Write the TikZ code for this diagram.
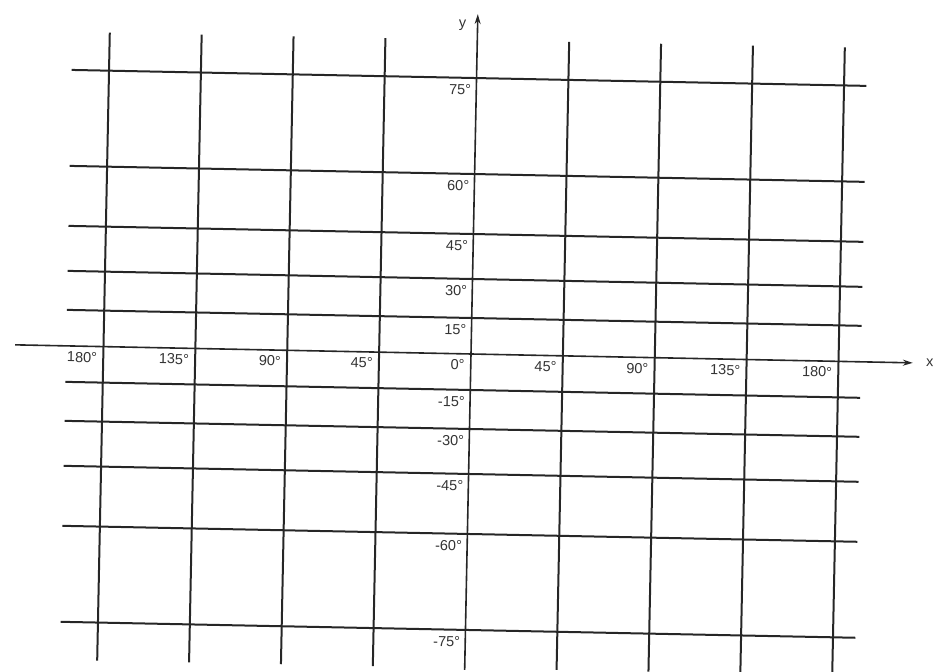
\documentclass[tikz,border=0pt]{standalone}
\usepackage{fontspec}
\setmainfont{Liberation Sans}
\usetikzlibrary{arrows.meta}
\begin{document}
\begin{tikzpicture}[x=1pt,y=1pt,
  gridline/.style={line width=2pt, draw=black!85},
  axisline/.style={line width=1.6pt, draw=black!85, -{Stealth[length=10pt,width=6pt]}},
  lbl/.style={font=\fontsize{14.5}{16}\selectfont, text=black!80, inner sep=0pt, transform shape}]
\useasboundingbox (0,0) rectangle (938,672);
\begin{scope}[shift={(471,318)}, rotate=-1.15]
  % parallels
  \foreach \v in {276,180,120,75,36,-36,-75,-120,-180,-276}
    \draw[gridline] (-405,\v) -- (390,\v);
  % meridians
  \foreach \k in {-4,-3,-2,-1,1,2,3,4}
    \draw[gridline] (\k*91.9,-314) -- (\k*91.9,314);
  % axes
  \coordinate (xs) at (-456,0);
  \coordinate (xe) at (442,0);
  \coordinate (ys) at (0,-316);
  \coordinate (ye) at (0,340);
  \draw[axisline] (xs) -- (xe);
  \draw[axisline] (ys) -- (ye);
  \node[lbl] (xlab) at (459,0) {x};
  \node[lbl] (ylab) at (-15,329) {y};
  % longitude labels
  \foreach \i/\k/\t in {1/-4/180,2/-3/135,3/-2/90,4/-1/45,5/0/0,6/1/45,7/2/90,8/3/135,9/4/180}
    \node[lbl, anchor=east] (lx\i) at (\k*91.9-6,-11) {\t°};
  % latitude labels
  \foreach \i/\v/\t in {1/276/75,2/180/60,3/120/45,4/75/30,5/36/15,6/-36/-15,7/-75/-30,8/-120/-45,9/-180/-60,10/-276/-75}
    \node[lbl, anchor=east] (ly\i) at (-5,\v-12) {\t°};
\end{scope}
\end{tikzpicture}
\end{document}
